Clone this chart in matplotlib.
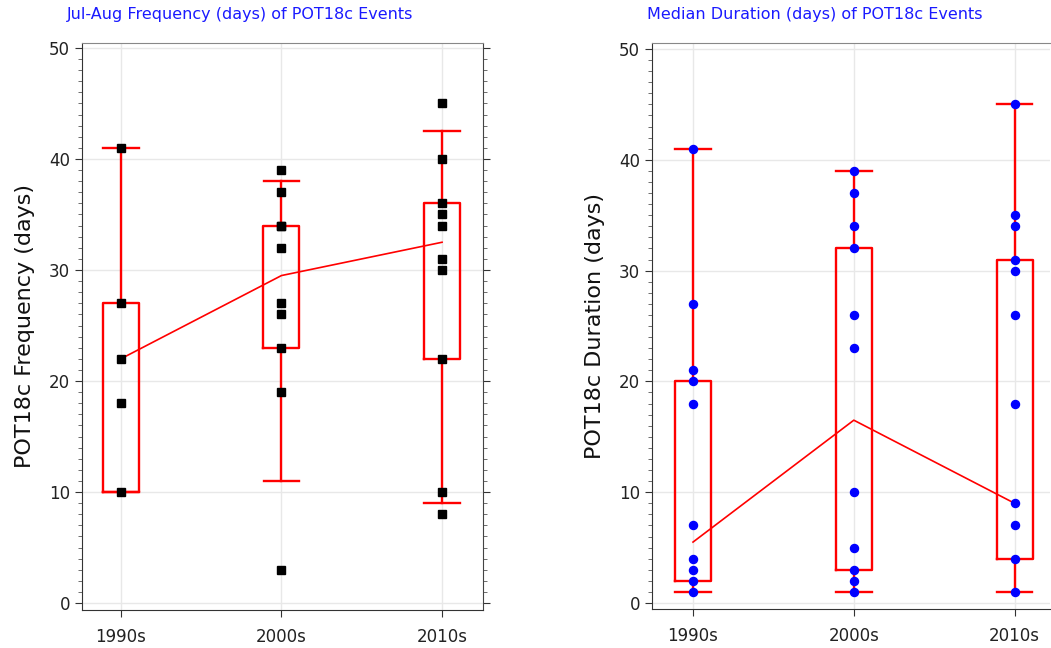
import numpy as np
import matplotlib
matplotlib.use('Agg')
import matplotlib.pyplot as plt
from matplotlib.ticker import MultipleLocator

decades = ['1990s', '2000s', '2010s']

# Jul-Aug frequency (days) per year, by decade
freq_pts = [
    [41, 27, 22, 18, 10],
    [39, 37, 34, 34, 32, 27, 26, 23, 19, 3],
    [45, 40, 36, 35, 34, 31, 30, 22, 10, 8],
]
freq_q1 = [10, 23, 22]
freq_med = [22, 29.5, 32.5]
freq_q3 = [27, 34, 36]
freq_lo = [10, 11, 9]
freq_hi = [41, 38, 42.5]

# median duration (days) per year, by decade
dur_pts = [
    [41, 27, 21, 20, 18, 7, 4, 3, 2, 1],
    [39, 37, 34, 32, 26, 23, 10, 5, 3, 2, 1],
    [45, 35, 34, 31, 30, 26, 18, 9, 7, 4, 1],
]
dur_q1 = [2, 3, 4]
dur_med = [5.5, 16.5, 9]
dur_q3 = [20, 32, 31]
dur_lo = [1, 1, 1]
dur_hi = [41, 39, 45]

fig = plt.figure(figsize=(10.51, 6.48), dpi=100)
ax1 = fig.add_axes([82/1051, 1-610/648, 401/1051, 567/648])
ax2 = fig.add_axes([652/1051, 1-609/648, 398/1051, 566/648])


def panel(ax, pts, q1, med, q3, lo, hi, marker, mcolor, ylabel, ylim, xlim):
    x = np.arange(len(decades))
    stats = []
    for i in range(len(decades)):
        stats.append({'med': med[i], 'q1': q1[i], 'q3': q3[i],
                      'whislo': lo[i], 'whishi': hi[i], 'fliers': []})
    red = dict(color='#ff0000', linewidth=1.7)
    ax.bxp(stats, positions=x, widths=0.224, capwidths=0.22, showfliers=False,
           boxprops=red, whiskerprops=red, capprops=red,
           medianprops=dict(linewidth=0), manage_ticks=False, zorder=3)
    ax.plot(x, med, color='#ff0000', linewidth=1.2, zorder=3)
    for i, vals in enumerate(pts):
        ax.plot(np.full(len(vals), x[i]), vals, linestyle='none', marker=marker,
                color=mcolor, markersize=5.8, zorder=4)
    ax.set_xticks(x)
    ax.set_xticklabels(decades)
    ax.set_xlim(*xlim)
    ax.set_ylim(*ylim)
    ax.yaxis.set_major_locator(MultipleLocator(10))
    ax.yaxis.set_minor_locator(MultipleLocator(1))
    ax.grid(True, color='#e8e8e8', linewidth=1, zorder=0)
    ax.set_axisbelow(True)
    ax.tick_params(axis='both', which='major', labelsize=12, length=5,
                   color='#333333', labelcolor='#222222', right=True)
    ax.tick_params(axis='x', which='major', pad=8)
    ax.tick_params(axis='y', which='minor', length=3, color='#555555', right=True)
    ax.set_ylabel(ylabel, fontsize=16, color='#111111', labelpad=10)
    for s in ['left', 'bottom']:
        ax.spines[s].set_color('#333333')
    ax.spines['top'].set_color('#888888')
    ax.spines['right'].set_color('#444444')


panel(ax1, freq_pts, freq_q1, freq_med, freq_q3, freq_lo, freq_hi, 's', 'black',
      'POT18c Frequency (days)', (-0.63, 50.45), (-0.242, 2.255))
panel(ax2, dur_pts, dur_q1, dur_med, dur_q3, dur_lo, dur_hi, 'o', '#0000ff',
      'POT18c Duration (days)', (-0.54, 50.54), (-0.255, 2.22))

# right panel runs off the edge of the image
ax2.spines['right'].set_visible(False)
ax2.tick_params(axis='y', which='both', right=False)

fig.text(67/1051, 1-14/648, 'Jul-Aug Frequency (days) of POT18c Events',
         color='#1a1aff', fontsize=11.5, va='center', ha='left')
fig.text(647/1051, 1-14/648, 'Median Duration (days) of POT18c Events',
         color='#1a1aff', fontsize=11.5, va='center', ha='left')

fig.savefig('out.png', dpi=100)
